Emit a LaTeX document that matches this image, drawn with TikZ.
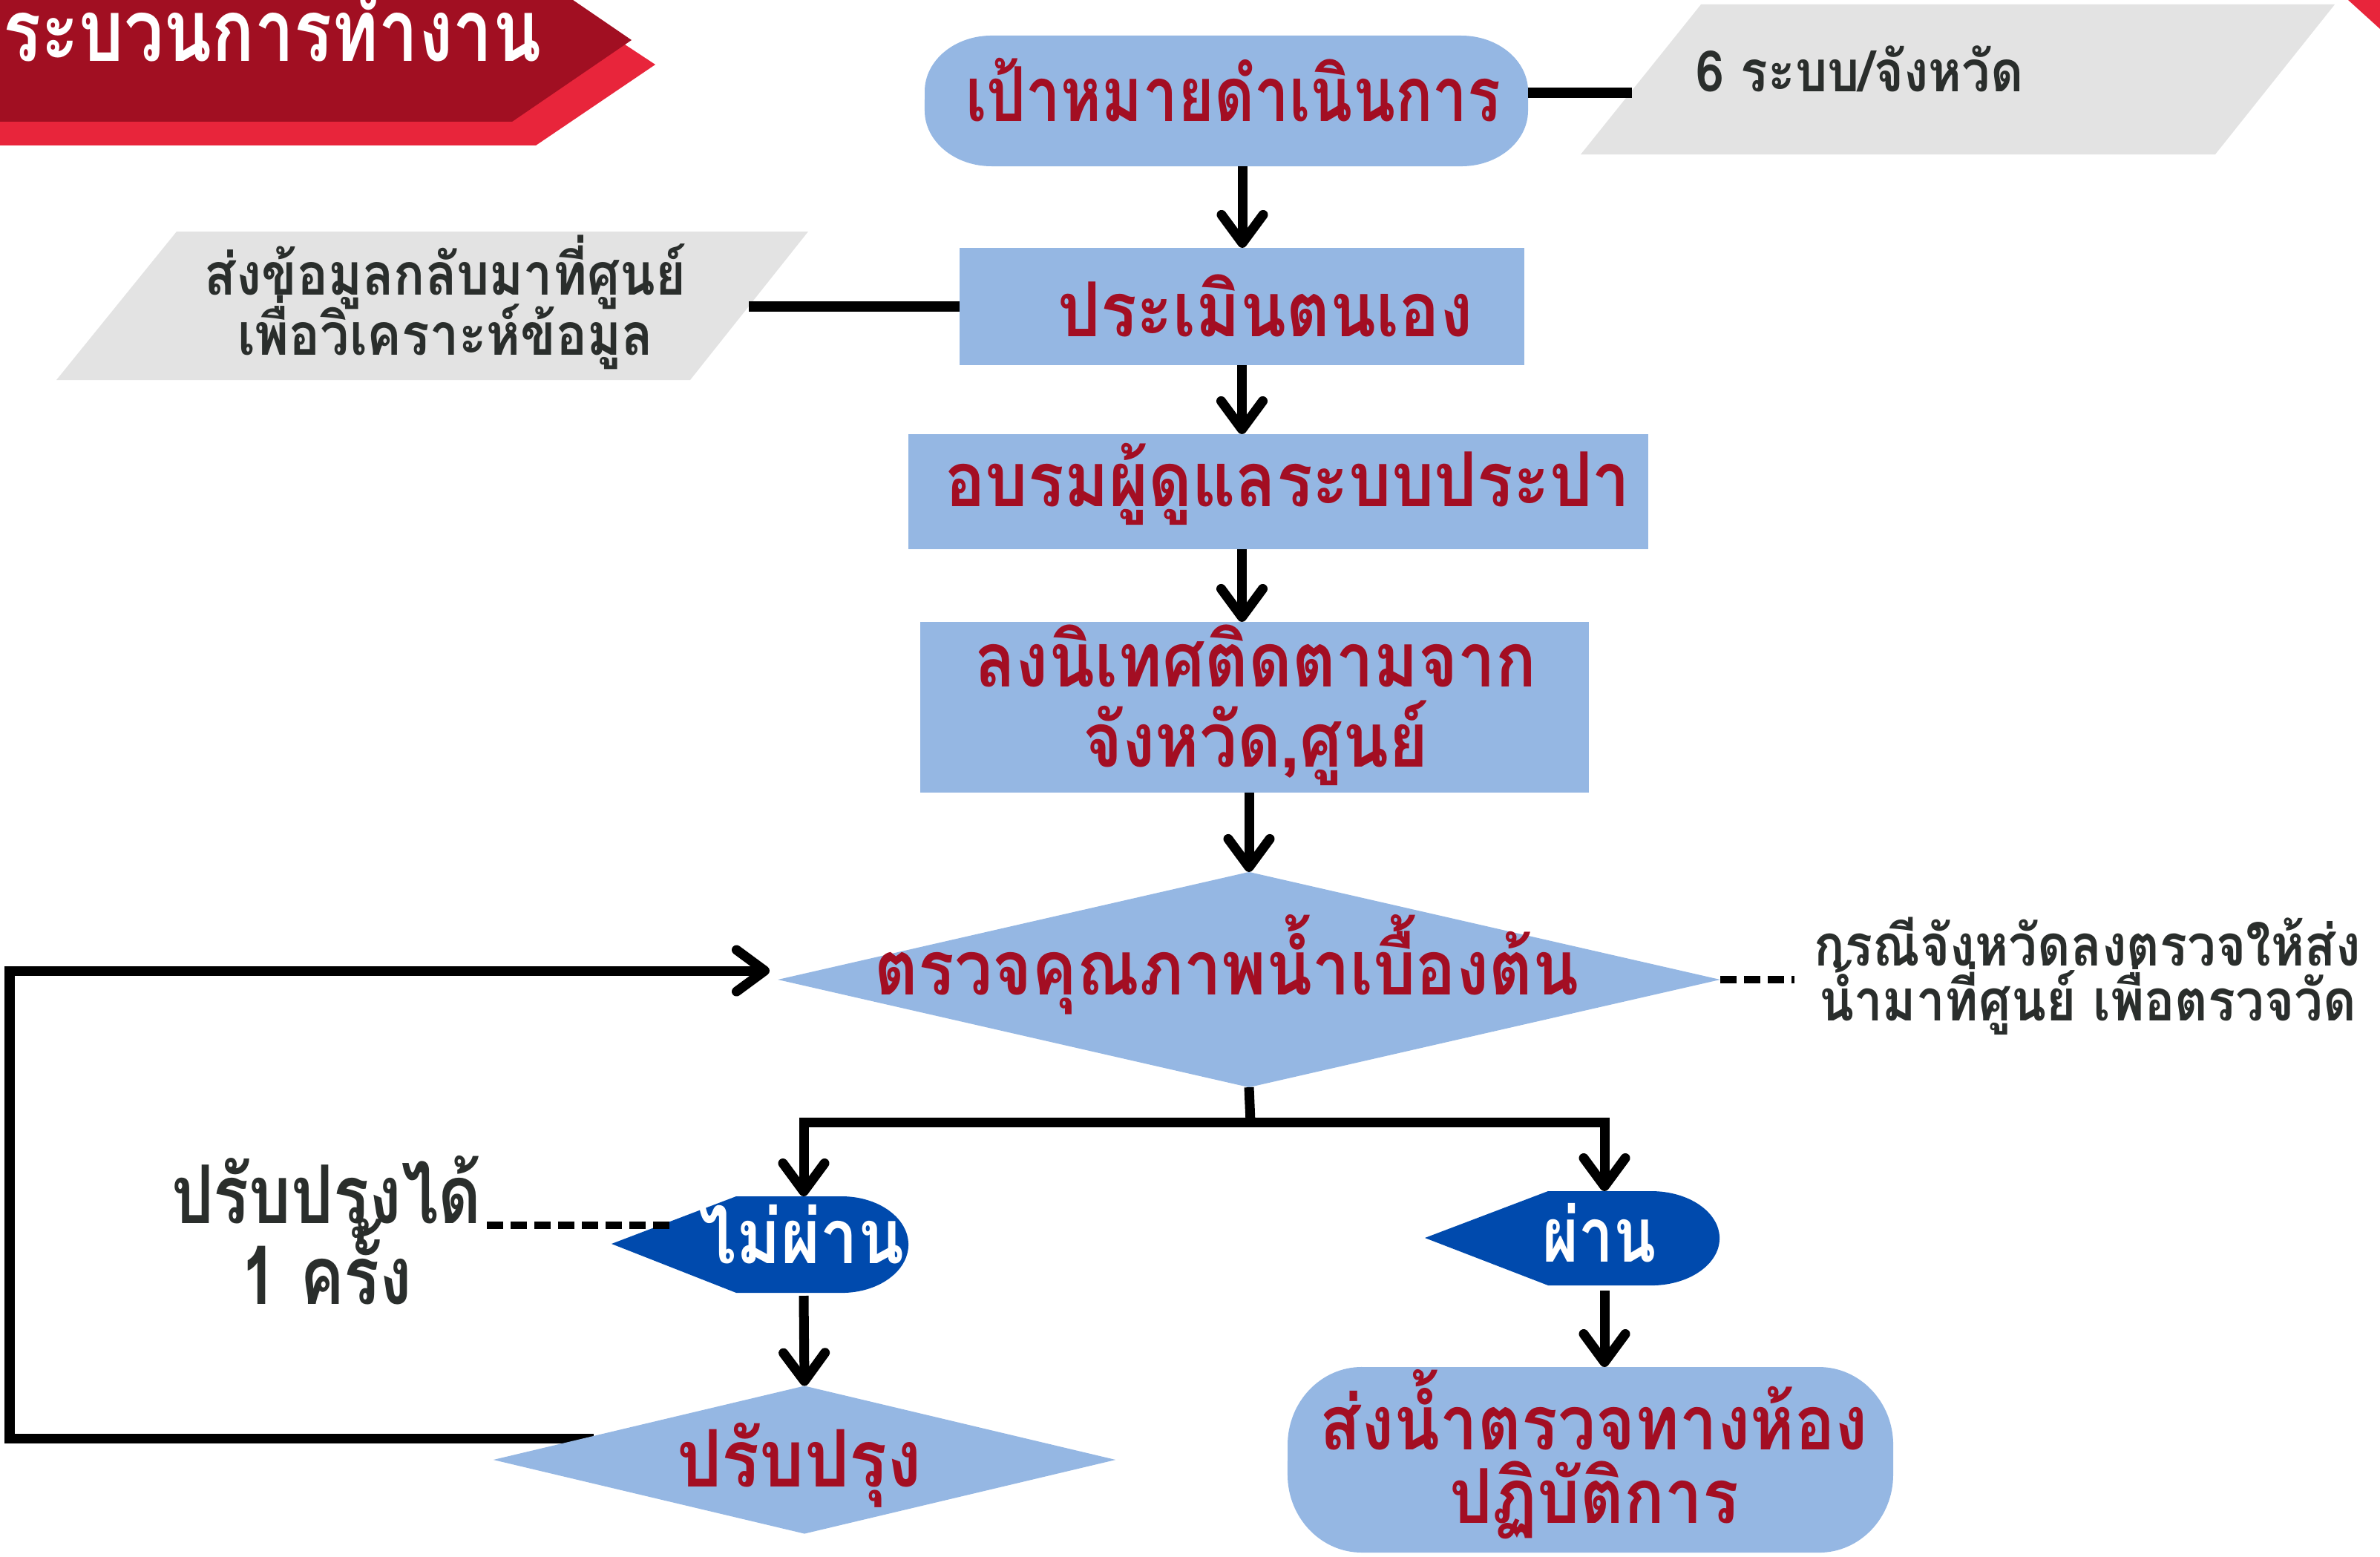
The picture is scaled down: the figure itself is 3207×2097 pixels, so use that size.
\documentclass[tikz,border=0pt]{standalone}
\usepackage{fontspec}
\usetikzlibrary{arrows.meta,shapes.geometric}
\newfontfamily\thaifont[Script=Thai,FakeStretch=0.89]{Loma}
\newfontfamily\thaicond[Script=Thai,FakeStretch=0.82]{Loma}
\definecolor{lblue}{HTML}{95B7E3}
\definecolor{tred}{HTML}{A30E23}
\definecolor{bdark}{HTML}{A10F22}
\definecolor{blight}{HTML}{E8253B}
\definecolor{pgray}{HTML}{E3E3E3}
\definecolor{dblue}{HTML}{004AAD}
\definecolor{dtext}{HTML}{2A2E2C}
\lineskiplimit=-100pt
\lineskip=0pt
% elliptical rounded box: color, L, T, R, B, rx(cm), ry(cm)
\newcommand\ellbox[7]{%
 \fill[#1] ({#2+100*#6},#3) -- ({#4-100*#6},#3)
   arc[start angle=90,end angle=0,x radius=#6cm,y radius=#7cm]
   -- (#4,{#5-100*#7})
   arc[start angle=0,end angle=-90,x radius=#6cm,y radius=#7cm]
   -- ({#2+100*#6},#5)
   arc[start angle=270,end angle=180,x radius=#6cm,y radius=#7cm]
   -- (#2,{#3+100*#7})
   arc[start angle=180,end angle=90,x radius=#6cm,y radius=#7cm] -- cycle;}
\begin{document}
\begin{tikzpicture}[x=0.01cm,y=-0.01cm,
  every node/.style={inner sep=0pt,outer sep=0pt},
  flowarrow/.style={line width=3.7pt,-{Straight Barb[length=0.38cm,width=0.56cm,round]}},
  plainline/.style={line width=3.7pt},
  dashline/.style={line width=2.8pt,dash pattern=on 0.22cm off 0.1cm},
  boxshape/.style={rectangle,fill=lblue},
  diashape/.style={diamond,fill=lblue},
  maintext/.style={font=\thaifont\bfseries\fontsize{29}{30.5}\selectfont,text=tred,align=center},
  whitetext/.style={font=\thaifont\bfseries\fontsize{29}{30.5}\selectfont,text=white},
  notetext/.style={font=\thaifont\bfseries,text=dtext,align=center},
]
\useasboundingbox (0,0) rectangle (3207,2097);

% banner
\fill[blight] (0,0) -- (751,0) -- (883,87) -- (722,196) -- (0,196) -- cycle;
\fill[bdark] (0,0) -- (772,0) -- (851,54) -- (690,164) -- (0,164) -- cycle;
\node[anchor=base east,font=\thaicond\bfseries\fontsize{33}{36}\selectfont,text=white] (title) at (729,83) {กระบวนการทำงาน};
\fill[blight] (3164,0) -- (3207,0) -- (3207,39) -- cycle;

% gray parallelograms
\fill[pgray] (2292,6) -- (3146,6) -- (2985,208) -- (2130,208) -- cycle;
\coordinate (g1w) at (2199,125);
\node[notetext,anchor=base west,font=\thaifont\bfseries\fontsize{21.8}{22}\selectfont] (six) at (2285,124) {6 ระบบ/จังหวัด};
\fill[pgray] (238,312) -- (1089,312) -- (930,512) -- (76,512) -- cycle;
\coordinate (g2e) at (1009,413);
\node[notetext,anchor=base,font=\thaifont\bfseries\fontsize{22.3}{23}\selectfont] (send) at (600,478) {ส่งข้อมูลกลับมาที่ศูนย์\\เพื่อวิเคราะห์ข้อมูล};

% node 1 (stadium)
\ellbox{lblue}{1246}{48}{2059}{224}{0.9}{0.75}
\coordinate (n1s) at (1674,224);
\coordinate (n1e) at (2059,125);
\node[maintext,font=\thaicond\bfseries\fontsize{29}{30.5}\selectfont,anchor=base] (t1) at (1662,163) {เป้าหมายดำเนินการ};

% node 2
\node[boxshape,minimum width=7.61cm,minimum height=1.58cm] (n2) at (1673.5,413) {};
\node[maintext,anchor=base] (t2) at (1705,453) {ประเมินตนเอง};
% node 3
\node[boxshape,minimum width=9.97cm,minimum height=1.55cm] (n3) at (1722.5,662.5) {};
\node[maintext,anchor=base] (t3) at (1735,682) {อบรมผู้ดูแลระบบประปา};
% node 4
\node[boxshape,minimum width=9.01cm,minimum height=2.30cm] (n4) at (1690.5,953) {};
\node[maintext,anchor=base] (t4) at (1692,1033) {ลงนิเทศติดตามจาก\\จังหวัด,ศูนย์};

% decision 1
\node[diashape,minimum width=12.69cm,minimum height=2.90cm] (d1) at (1683,1320) {};
\node[maintext,anchor=base] (t5) at (1653,1340) {ตรวจคุณภาพน้ำเบื้องต้น};
\node[notetext,anchor=base,font=\thaifont\bfseries\fontsize{22}{21}\selectfont] (case) at (2813,1375) {กรณีจังหวัดลงตรวจให้ส่ง\\น้ำมาที่ศูนย์ เพื่อตรวจวัด};
\coordinate (casew) at (2418,1320);

% fail display
\fill[dblue] (824,1676) -- (992,1612) -- (1134,1612) arc[start angle=90,end angle=-90,x radius=0.9cm,y radius=0.65cm] -- (992,1742) -- cycle;
\coordinate (nfn) at (1083,1612);
\coordinate (nfs) at (1083,1746);
\coordinate (nfw) at (903,1651);
\node[whitetext,anchor=base] (t6) at (1080,1702) {ไม่ผ่าน};
\node[notetext,anchor=base,font=\thaicond\bfseries\fontsize{31}{31}\selectfont] (once) at (440,1757) {ปรับปรุงได้\\1 ครั้ง};
\coordinate (oncee) at (656,1651);

% pass display
\fill[dblue] (1920,1668) -- (2086,1605) -- (2225,1605) arc[start angle=90,end angle=-90,x radius=0.92cm,y radius=0.635cm] -- (2086,1732) -- cycle;
\coordinate (psn) at (2162,1605);
\coordinate (pss) at (2162,1739);
\node[whitetext,font=\thaicond\bfseries\fontsize{29}{30.5}\selectfont,anchor=base] (t7) at (2155,1700) {ผ่าน};

% loop connector (under diamond 2)
\coordinate (d2e) at (800,1938);
\coordinate (lc1) at (13,1938);
\coordinate (lc2) at (13,1308);
\coordinate (lend) at (1037,1308);
\draw[flowarrow] (d2e) -- (lc1) -- (lc2) -- (lend);

% decision 2
\node[diashape,minimum width=8.38cm,minimum height=1.99cm] (d2) at (1084,1967) {};
\node[maintext,font=\thaifont\bfseries\fontsize{30.4}{31}\selectfont,anchor=base] (t8) at (1077,2003) {ปรับปรุง};

% lab node
\ellbox{lblue}{1735}{1842}{2551}{2092}{1.0}{1.05}
\coordinate (labn) at (2162,1842);
\node[maintext,font=\thaifont\bfseries\fontsize{29}{28}\selectfont,anchor=base] (t9) at (2148,2052) {ส่งน้ำตรวจทางห้อง\\ปฏิบัติการ};

% connectors
\draw[plainline] (n1e) -- (g1w);
\draw[plainline] (g2e) -- (n2.west |- g2e);
\draw[flowarrow] (n1s) -- (n1s |- n2.north);
\draw[flowarrow] (n2.south) -- (n2.south |- n3.north);
\draw[flowarrow] (n3.south -| n2.south) -- (n2.south |- n4.north);
\draw[flowarrow] (n4.south -| d1.north) -- (d1.north);
\draw[dashline] (d1.east) -- (casew);
\coordinate (br) at (1685,1512);
\draw[plainline] (d1.south) -- (br);
\draw[flowarrow] (br) -| (nfn);
\draw[flowarrow] (br) -| (psn);
\draw[dashline] (oncee) -- (nfw);
\draw[flowarrow] (nfs) -- (d2.north);
\draw[flowarrow] (pss) -- (labn);
\end{tikzpicture}
\end{document}
